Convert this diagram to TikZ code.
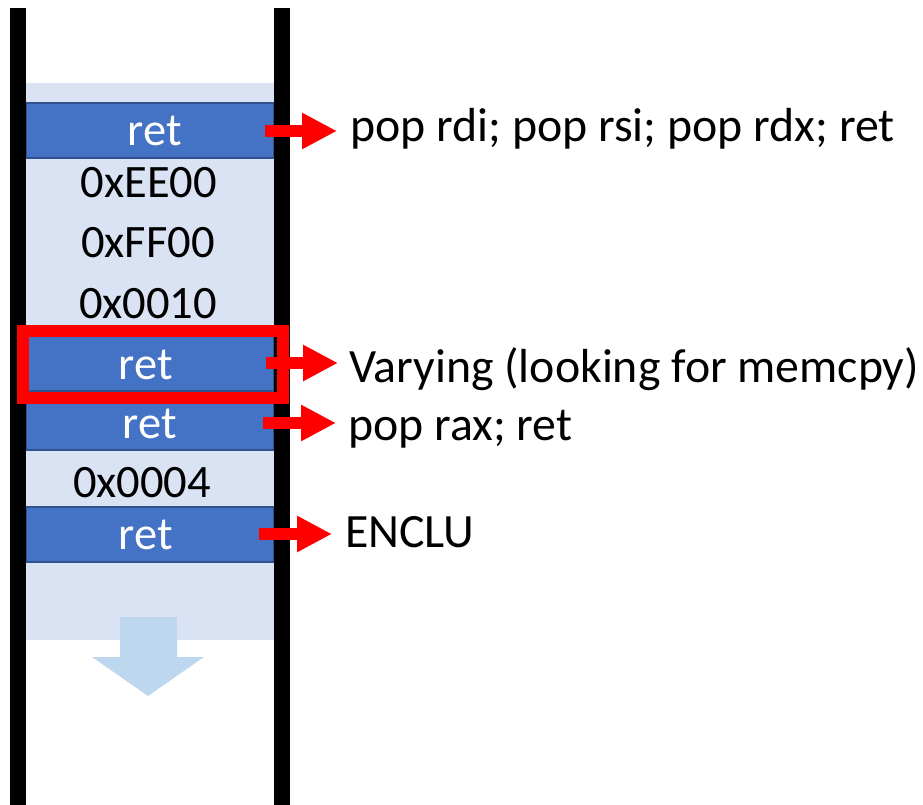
\documentclass[tikz,border=0pt]{standalone}
\usepackage{fontspec}
\setmainfont{Carlito}
\usetikzlibrary{arrows.meta}
\definecolor{stackbg}{HTML}{DAE3F3}
\definecolor{bandfill}{HTML}{4472C4}
\definecolor{bandline}{HTML}{2F528F}
\definecolor{downblue}{HTML}{BDD7EE}
\definecolor{redx}{HTML}{FF0000}
\tikzset{
  bigtext/.style={inner sep=0pt, anchor=base, font=\fontsize{46.5}{50}\selectfont},
  rettext/.style={bigtext, text=white},
  labeltext/.style={inner sep=0pt, anchor=base west, font=\fontsize{47.8}{52}\selectfont},
  band/.style={fill=bandfill, draw=bandline, line width=2pt},
  redarrow/.style={draw=redx, line width=12pt, -{Triangle[length=35pt,width=34pt]}},
}
\begin{document}
\begin{tikzpicture}[x=1pt,y=-1pt]
\useasboundingbox (0,0) rectangle (923,805);
% stack background
\fill[stackbg] (26,83) rectangle (274,640);
% down arrow
\fill[downblue] (120,617) -- (177,617) -- (177,657) -- (204,657) -- (148,696) -- (92,657) -- (120,657) -- cycle;
% bands
\path[band] (26,103) rectangle (274,158);
\path[band] (26,336) rectangle (274,391);
\path[band] (26,391) rectangle (274,450);
\path[band] (26,507) rectangle (274,562);
% stack texts
\node[rettext] (r1) at (155,146) {ret};
\node[bigtext] (h1) at (149,197) {0xEE00};
\node[bigtext] (h2) at (148,257) {0xFF00};
\node[bigtext] (h3) at (148,318) {0x0010};
\node[rettext] (r2) at (146,379) {ret};
\node[rettext] (r3) at (150,438) {ret};
\node[bigtext] (h4) at (142,497) {0x0004};
\node[rettext] (r4) at (146,549) {ret};
% bars
\fill[black] (10,8) rectangle (26,805);
\fill[black] (274,8) rectangle (290,805);
% red highlight box
\draw[redx, line width=12pt] (23,331) rectangle (282.5,397.5);
% labels
\node[labeltext] (l1) at (350,141.5) {pop rdi; pop rsi; pop rdx; ret};
\node[labeltext] (l2) at (349,382) {Varying (looking for memcpy)};
\node[labeltext] (l3) at (348,440) {pop rax; ret};
\node[labeltext] (l4) at (345,547) {ENCLU};
% arrows
\coordinate (a1s) at (265,131); \coordinate (a1e) at (337,131);
\coordinate (a2s) at (266,363); \coordinate (a2e) at (338,363);
\coordinate (a3s) at (263,423); \coordinate (a3e) at (336,423);
\coordinate (a4s) at (259,534); \coordinate (a4e) at (332,534);
\draw[redarrow] (a1s) -- (a1e);
\draw[redarrow] (a2s) -- (a2e);
\draw[redarrow] (a3s) -- (a3e);
\draw[redarrow] (a4s) -- (a4e);
\end{tikzpicture}
\end{document}
